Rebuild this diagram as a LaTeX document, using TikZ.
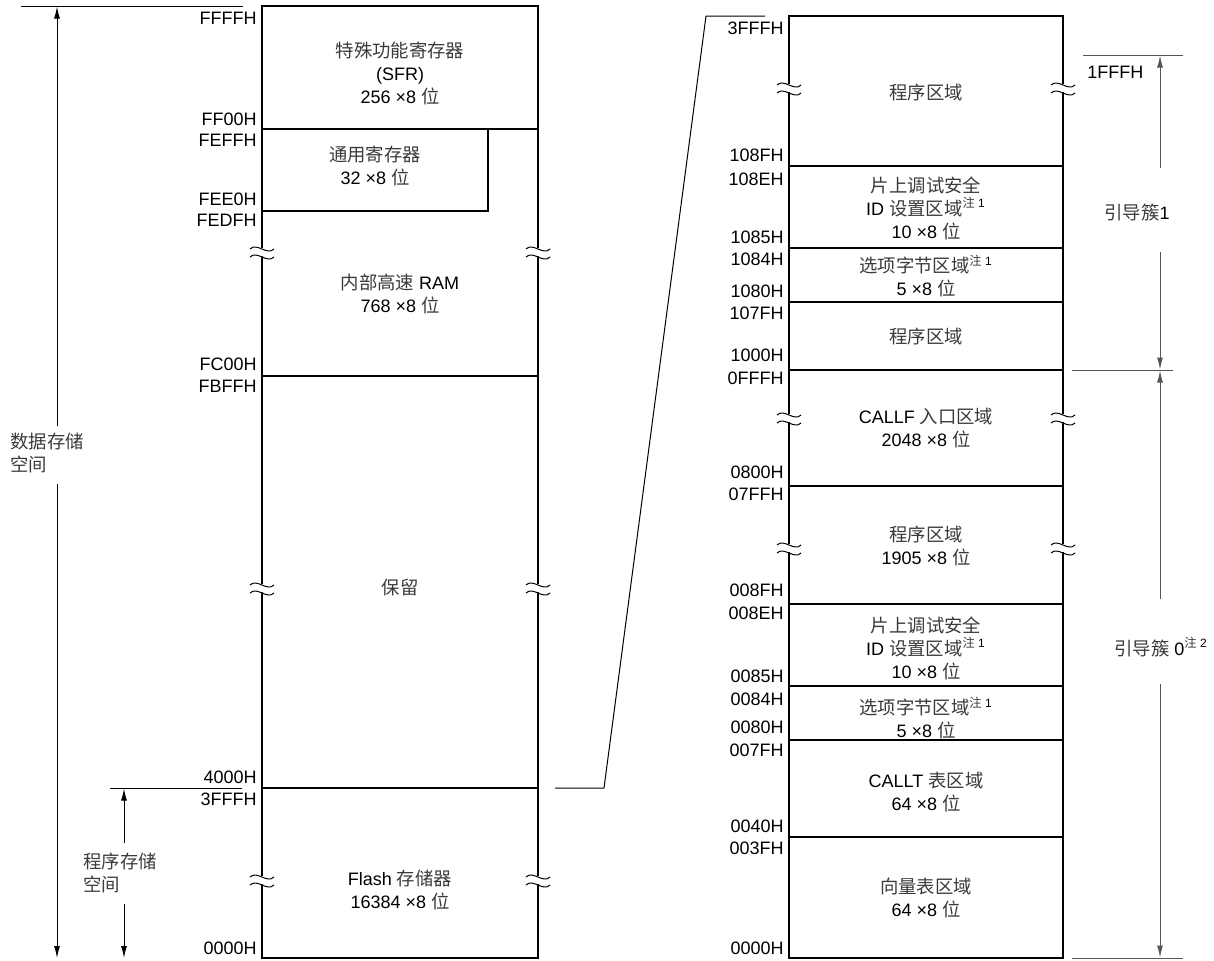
\documentclass[tikz,border=0pt]{standalone}
\usepackage{fontspec}
\setmainfont{Liberation Sans}
\newfontfamily\cjk[Scale=1.02]{Noto Sans CJK SC}
\usetikzlibrary{arrows.meta}
\definecolor{mapline}{HTML}{000000}
\definecolor{dimline}{HTML}{555555}
\definecolor{cntext}{HTML}{3A3A3A}
\newcommand{\zh}[1]{{\cjk\color{cntext}#1}}
\newcommand{\zhnote}[1]{\textsuperscript{\zh{注} #1}}
\tikzset{
  outer/.style   = {line width=1.1pt, draw=mapline},
  inner/.style   = {line width=0.6pt, draw=mapline},
  addr/.style    = {font=\fontsize{9}{10}\selectfont, inner sep=0pt, anchor=east},
  area/.style    = {font=\fontsize{9}{11.5}\selectfont, align=center, inner sep=0pt},
  dim/.style     = {-{Latex[length=6pt, width=3pt]}, line width=0.5pt, draw=mapline},
  dimgray/.style = {dim, draw=dimline},
  tick/.style    = {line width=0.5pt, draw=mapline},
  tickgray/.style= {line width=0.5pt, draw=dimline},
  waybreak/.pic  = {
    \fill[white] (-3,-4) rectangle (3,4);
    \draw[line width=0.5pt] (-12,-3) .. controls (-5,-10) and (5,4) .. (12,-3);
    \draw[line width=0.5pt] (-12,5) .. controls (-5,-2) and (5,12) .. (12,5);
  },
}

\begin{document}
\begin{tikzpicture}[x=0.5pt, y=-0.5pt]
\useasboundingbox (0,0) rectangle (1214,960);

% data memory space
\draw[outer] (262,6) rectangle (538,958);
\draw[inner] (262,129) -- (538,129);
\draw[inner] (262,211) -| (488,129);
\draw[inner] (262,376) -- (538,376);
\draw[inner] (262,788) -- (538,788);
\pic at (262,252) {waybreak};
\pic at (538,252) {waybreak};
\pic at (262,588) {waybreak};
\pic at (538,588) {waybreak};
\pic at (262,880) {waybreak};
\pic at (538,880) {waybreak};

\node[addr] (lFFFF) at (257,18) {FFFFH};
\node[addr] (lFF00) at (257,119) {FF00H};
\node[addr] (lFEFF) at (257,140) {FEFFH};
\node[addr] (lFEE0) at (257,199) {FEE0H};
\node[addr] (lFEDF) at (257,220) {FEDFH};
\node[addr] (lFC00) at (257,364) {FC00H};
\node[addr] (lFBFF) at (257,386) {FBFFH};
\node[addr] (l4000) at (257,777) {4000H};
\node[addr] (l3FFF) at (257,799) {3FFFH};
\node[addr] (l0000) at (257,948) {0000H};

\node[area] (sfr) at (400,73) {\zh{特殊功能寄存器}\\(SFR)\\256 ×8 \zh{位}};
\node[area] (gpr) at (375,166) {\zh{通用寄存器}\\32 ×8 \zh{位}};
\node[area] (iram) at (400,294) {\zh{内部高速} RAM\\768 ×8 \zh{位}};
\node[area] (rsvd) at (400,588) {\zh{保留}};
\node[area] (flash) at (400,890) {Flash \zh{存储器}\\16384 ×8 \zh{位}};

% space arrows
\node[area, align=left, anchor=west] (dspace) at (10,453) {\zh{数据存储}\\\zh{空间}};
\node[area, align=left, anchor=west] (pspace) at (83,873) {\zh{程序存储}\\\zh{空间}};
\coordinate (dsTickL) at (21,6);
\coordinate (dsTickR) at (243,6);
\coordinate (dsTop) at (57,6.5);
\coordinate (dsGapA) at (57,426);
\coordinate (dsGapB) at (57,484);
\coordinate (dsBot) at (57,958);
\coordinate (psTickL) at (110,788);
\coordinate (psTickR) at (242,788);
\coordinate (psTop) at (124,788.5);
\coordinate (psGapA) at (124,843);
\coordinate (psGapB) at (124,904);
\coordinate (psBot) at (124,958);
\draw[tick] (dsTickL) -- (dsTickR);
\draw[dim] (dsGapA) -- (dsTop);
\draw[dim] (dsGapB) -- (dsBot);
\draw[tick] (psTickL) -- (psTickR);
\draw[dim] (psGapA) -- (psTop);
\draw[dim] (psGapB) -- (psBot);

% zoom of flash memory
\coordinate (zoomA) at (555,788);
\coordinate (zoomB) at (604,788);
\coordinate (zoomC) at (706,16);
\coordinate (zoomD) at (765,16);
\draw[tick] (zoomA) -- (zoomB) -- (zoomC) -- (zoomD);

% flash memory map
\draw[outer] (789,16) rectangle (1063,958);
\draw[inner] (789,166) -- (1063,166) (789,248) -- (1063,248)
             (789,302) -- (1063,302) (789,370) -- (1063,370)
             (789,486) -- (1063,486) (789,604) -- (1063,604)
             (789,686) -- (1063,686) (789,740) -- (1063,740)
             (789,837) -- (1063,837);
\pic at (789,88) {waybreak};
\pic at (1063,88) {waybreak};
\pic at (789,418) {waybreak};
\pic at (1063,418) {waybreak};
\pic at (789,548) {waybreak};
\pic at (1063,548) {waybreak};

\node[addr] (r3FFF) at (784,28) {3FFFH};
\node[addr] (r108F) at (784,155) {108FH};
\node[addr] (r108E) at (784,179) {108EH};
\node[addr] (r1085) at (784,237) {1085H};
\node[addr] (r1084) at (784,259) {1084H};
\node[addr] (r1080) at (784,291) {1080H};
\node[addr] (r107F) at (784,313) {107FH};
\node[addr] (r1000) at (784,355) {1000H};
\node[addr] (r0FFF) at (784,378) {0FFFH};
\node[addr] (r0800) at (784,472) {0800H};
\node[addr] (r07FF) at (784,494) {07FFH};
\node[addr] (r008F) at (784,590) {008FH};
\node[addr] (r008E) at (784,613) {008EH};
\node[addr] (r0085) at (784,676) {0085H};
\node[addr] (r0084) at (784,699) {0084H};
\node[addr] (r0080) at (784,727) {0080H};
\node[addr] (r007F) at (784,750) {007FH};
\node[addr] (r0040) at (784,826) {0040H};
\node[addr] (r003F) at (784,848) {003FH};
\node[addr] (r0000) at (784,948) {0000H};

\node[area] (prgA) at (926,92) {\zh{程序区域}};
\node[area] (ocdA) at (926,208) {\zh{片上调试安全}\\ID \zh{设置区域}\zhnote{1}\\10 ×8 \zh{位}};
\node[area] (optA) at (926,276) {\zh{选项字节区域}\zhnote{1}\\5 ×8 \zh{位}};
\node[area] (prgB) at (926,336) {\zh{程序区域}};
\node[area] (callf) at (926,428) {CALLF \zh{入口区域}\\2048 ×8 \zh{位}};
\node[area] (prgC) at (926,546) {\zh{程序区域}\\1905 ×8 \zh{位}};
\node[area] (ocdB) at (926,648) {\zh{片上调试安全}\\ID \zh{设置区域}\zhnote{1}\\10 ×8 \zh{位}};
\node[area] (optB) at (926,718) {\zh{选项字节区域}\zhnote{1}\\5 ×8 \zh{位}};
\node[area] (callt) at (926,792) {CALLT \zh{表区域}\\64 ×8 \zh{位}};
\node[area] (vect) at (926,898) {\zh{向量表区域}\\64 ×8 \zh{位}};

% boot clusters
\node[addr, anchor=west] (r1FFF) at (1087,72) {1FFFH};
\node[area] (boot1) at (1137,212) {\zh{引导簇}1};
\node[area] (boot0) at (1161,647) {\zh{引导簇} 0\zhnote{2}};
\coordinate (bcTickA) at (1083,55);
\coordinate (bcTickB) at (1183,55);
\coordinate (bcMidL) at (1072,370);
\coordinate (bcMidR) at (1173,370);
\coordinate (bcBotL) at (1072,958);
\coordinate (bcBotR) at (1183,958);
\coordinate (b1Top) at (1160,55.5);
\coordinate (b1GapA) at (1160,168);
\coordinate (b1GapB) at (1160,252);
\coordinate (b1Bot) at (1160,369.5);
\coordinate (b0Top) at (1160,370.5);
\coordinate (b0GapA) at (1160,599);
\coordinate (b0GapB) at (1160,684);
\coordinate (b0Bot) at (1160,957.5);
\draw[tickgray] (bcTickA) -- (bcTickB);
\draw[tickgray] (bcMidL) -- (bcMidR);
\draw[tickgray] (bcBotL) -- (bcBotR);
\draw[dimgray] (b1GapA) -- (b1Top);
\draw[dimgray] (b1GapB) -- (b1Bot);
\draw[dimgray] (b0GapA) -- (b0Top);
\draw[dimgray] (b0GapB) -- (b0Bot);
\end{tikzpicture}
\end{document}
